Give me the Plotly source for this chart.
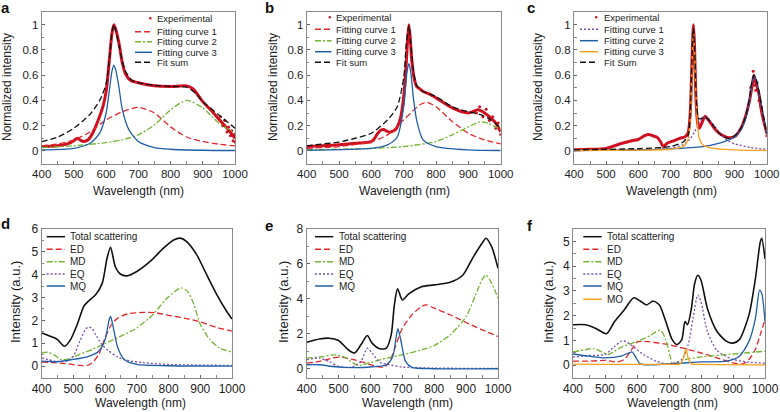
import plotly.graph_objects as go

W, H = 780, 412
FONT = "Liberation Sans, Arial, Helvetica, sans-serif"
RED = '#e3262b'; EXP = '#cf1020'; GREEN = '#72b52f'; BLUE = '#1f5ea8'
PURPLE = '#7a4db0'; ORANGE = '#f8a11d'; BLACK = '#111111'
DASH = '6px,3px'; DASHDOT = '6px,2px,2px,2px'; DOT = '2px,2px'

# ---------------- panel a ----------------
a_exp_x = [400,450,480,500,510,520,530,545,560,575,590,600,610,618,624,630,640,650,660,675,700,750,800,850,870,900,930,950,975,1000]
a_exp_y = [.034,.04,.055,.08,.10,.085,.075,.09,.15,.24,.35,.47,.72,.93,1.0,.96,.85,.70,.61,.56,.54,.515,.51,.515,.49,.39,.31,.25,.18,.10]
a_noise_x = [955,962,968,975,980,986,990,994,998,1000]
a_noise_y = [.27,.20,.24,.15,.19,.12,.16,.08,.13,.07]
a_fit_x = [400,450,500,550,580,600,612,618,624,630,640,660,680,700,750,800,850,880,900,950,1000]
a_fit_y = [.074,.11,.18,.29,.40,.53,.78,.93,1.0,.95,.83,.63,.56,.54,.52,.51,.505,.45,.39,.285,.18]
a_fc1_x = [400,450,500,550,600,650,700,750,800,850,900,950,1000]
a_fc1_y = [.04,.055,.087,.15,.245,.31,.345,.30,.19,.11,.075,.053,.04]
a_fc2_x = [400,500,600,650,700,750,800,850,900,950,1000]
a_fc2_y = [.026,.04,.066,.087,.127,.206,.325,.40,.34,.22,.14]
a_fc3_x = [400,500,550,580,600,612,618,624,630,640,650,670,700,750,800,900,1000]
a_fc3_y = [.008,.02,.06,.14,.30,.52,.63,.68,.64,.50,.33,.17,.074,.026,.013,.005,.003]

# ---------------- panel b ----------------
b_exp_x = [400,450,500,550,600,610,620,630,638,645,655,665,675,690,700,708,712,716,720,725,732,740,750,760,780,800,850,900,930,950,970,985,1000]
b_exp_y = [.034,.04,.048,.06,.074,.10,.14,.165,.17,.16,.148,.155,.17,.26,.43,.70,.88,1.0,.90,.72,.58,.51,.49,.47,.45,.42,.34,.30,.325,.30,.26,.22,.15]
b_noise_x = [925,935,945,955,965,975,985,992,1000]
b_noise_y = [.30,.35,.27,.33,.24,.27,.18,.22,.13]
b_fit_x = [400,450,500,550,600,650,680,700,708,716,722,730,740,760,780,800,850,900,940,970,1000]
b_fit_y = [.04,.055,.07,.10,.14,.245,.35,.58,.85,.99,.85,.64,.52,.47,.45,.43,.35,.31,.285,.245,.18]
b_fc1_x = [400,500,600,650,700,750,770,800,850,900,950,1000]
b_fc1_y = [.02,.034,.074,.127,.246,.365,.385,.35,.233,.14,.087,.056]
b_fc2_x = [400,600,700,800,850,900,935,960,1000]
b_fc2_y = [.008,.02,.034,.074,.127,.19,.23,.22,.167]
b_fc3_x = [400,600,650,680,700,710,716,722,730,740,760,800,900,1000]
b_fc3_y = [.005,.02,.048,.11,.35,.62,.69,.62,.42,.245,.087,.034,.008,.003]

# ---------------- panel c ----------------
c_exp_x = [400,450,500,550,580,600,620,632,645,660,670,678,690,710,730,745,755,762,766,770,772,775,780,785,790,798,808,820,840,860,880,900,920,935,945,955,960,965,975,985,1000]
c_exp_y = [.008,.012,.02,.06,.08,.09,.12,.13,.12,.105,.07,.034,.06,.08,.10,.11,.14,.30,.60,.92,1.0,.85,.40,.22,.18,.22,.275,.24,.17,.125,.105,.114,.18,.28,.38,.52,.60,.55,.46,.30,.14]
c_noise_x = [950,958,962,966,970,976,982,990,1000]
c_noise_y = [.50,.63,.52,.48,.54,.40,.35,.25,.12]
c_fit_x = [400,600,700,740,755,762,767,772,777,782,788,795,808,820,840,860,880,900,920,935,945,952,960,968,978,988,1000]
c_fit_y = [.008,.018,.034,.07,.12,.30,.68,.97,.70,.35,.255,.255,.27,.245,.18,.12,.10,.12,.18,.28,.40,.52,.60,.56,.44,.30,.13]
c_fc1_x = [400,600,700,740,760,775,790,800,808,820,840,860,880,900,950,1000]
c_fc1_y = [.003,.008,.02,.05,.09,.15,.22,.26,.27,.25,.19,.12,.08,.056,.026,.013]
c_fc2_x = [400,600,700,800,850,880,900,920,935,945,952,960,968,978,988,1000]
c_fc2_y = [.003,.008,.016,.034,.06,.085,.11,.17,.26,.38,.50,.595,.56,.44,.30,.14]
c_fc3_x = [400,600,700,740,755,762,767,772,777,782,790,800,820,900,1000]
c_fc3_y = [.003,.006,.013,.034,.09,.25,.60,.96,.65,.30,.10,.05,.026,.008,.003]

# ---------------- panel d ----------------
d_tot_x = [400,440,450,472,491,512,533,549,570,591,606,617,632,648,669,700,742,784,816,837,857,889,920,952,983,1000]
d_tot_y = [1.45,1.24,1.16,0.87,1.16,1.82,2.62,2.86,3.12,3.63,4.72,5.2,4.36,4.03,3.95,4.14,4.58,5.16,5.52,5.6,5.45,4.87,4.0,3.13,2.40,2.06]
d_ed_x = [400,440,480,520,545,560,580,600,620,640,670,720,760,800,850,900,950,1000]
d_ed_y = [.17,.15,.10,.03,.03,.15,.51,1.24,1.82,2.1,2.28,2.35,2.33,2.22,2.1,1.93,1.70,1.53]
d_md_x = [400,420,440,460,480,520,560,600,650,700,750,790,820,840,860,880,900,930,960,1000]
d_md_y = [.58,.61,.48,.29,.29,.51,.73,.99,1.31,1.67,2.25,2.9,3.27,3.42,3.27,2.69,1.82,1.16,.8,.61]
d_eq_x = [400,440,480,500,520,540,550,560,570,590,610,640,680,720,800,1000]
d_eq_y = [.36,.22,.22,.44,1.09,1.64,1.71,1.62,1.38,.94,.68,.39,.22,.15,.07,.03]
d_mq_x = [400,450,500,550,580,600,608,613,617,621,627,640,660,700,800,1000]
d_mq_y = [.22,.19,.29,.44,.65,1.16,1.7,2.05,2.17,2.0,1.6,.8,.29,.07,.015,0]

# ---------------- panel e ----------------
e_tot_x = [400,440,470,500,530,550,570,590,605,630,650,665,675,685,700,720,760,800,850,890,920,950,962,980,1000]
e_tot_y = [1.52,1.70,1.75,1.62,1.09,.90,1.37,1.9,1.47,1.14,1.18,1.94,3.66,4.57,3.94,4.29,4.7,4.8,4.95,5.37,6.32,7.18,7.47,6.99,5.75]
e_ed_x = [400,440,480,510,540,580,620,645,660,680,700,730,760,775,800,850,900,950,1000]
e_ed_y = [.32,.42,.61,.67,.55,.36,.13,.11,.42,1.37,2.32,3.09,3.56,3.66,3.47,3.09,2.65,2.23,1.85]
e_md_x = [400,450,490,520,560,600,650,700,750,800,850,900,930,950,962,980,1000]
e_md_y = [.61,.70,.80,.65,.19,.36,.61,.8,1.03,1.33,1.94,2.99,4.23,5.09,5.37,4.9,4.04]
e_eq_x = [400,440,470,500,540,570,590,605,630,660,700,800,1000]
e_eq_y = [.51,.61,.42,.13,.08,.42,1.18,.9,.36,.23,.1,.04,.02]
e_mq_x = [400,440,480,520,600,650,670,680,686,695,710,730,800,1000]
e_mq_y = [.23,.23,.13,.08,.1,.23,.7,1.75,2.29,1.66,.42,.08,0,0]

# ---------------- panel f ----------------
f_tot_x = [400,440,470,505,530,560,590,610,630,650,670,690,710,725,740,750,758,770,780,790,800,820,850,880,900,920,950,970,985,990,1000]
f_tot_y = [1.63,1.63,1.49,1.27,1.76,2.23,2.72,2.59,2.43,2.59,2.43,1.76,1.03,.83,1.03,1.76,1.63,2.29,3.29,3.63,3.43,2.29,1.36,.96,.89,1.03,2.03,3.49,4.96,5.12,4.29]
f_ed_x = [400,450,500,540,560,580,600,620,700,760,800,850,900,930,950,970,985,1000]
f_ed_y = [.16,.16,.19,.13,.23,.56,.93,.96,.83,.63,.49,.29,.09,.05,.23,.63,1.23,1.83]
f_md_x = [400,440,465,490,510,550,600,640,665,675,690,705,712,730,760,800,900,1000]
f_md_y = [.53,.63,.67,.53,.43,.72,.96,1.19,1.39,1.39,1.03,.29,.03,.13,.25,.33,.45,.56]
f_eq_x = [400,450,500,530,555,580,620,660,700,740,760,775,790,800,820,850,900,950,1000]
f_eq_y = [.32,.39,.43,.76,.99,.83,.43,.16,.03,.23,.83,1.89,2.83,2.56,1.36,.59,.23,.12,.08]
f_mq_x = [400,450,500,550,575,585,595,610,700,800,880,920,950,970,983,990,1000]
f_mq_y = [.45,.36,.29,.36,.5,.53,.35,.05,.05,.13,.16,.36,.96,1.89,3.03,2.89,1.76]
f_mo_x = [400,700,735,745,753,760,770,800,1000]
f_mo_y = [.04,.03,.05,.29,.67,.29,.05,.03,.01]

x_ticks = [400, 500, 600, 700, 800, 900, 1000]


def X(px):
    return px / W


def Y(py):
    return 1 - py / H


fig = go.Figure()

panels = [
    dict(letter='a', xd=(41.7, 235), yd=(12, 163.5), yr=(-0.1, 1.1), dt=0.2, top=True),
    dict(letter='b', xd=(306.7, 500.7), yd=(12, 163.5), yr=(-0.1, 1.1), dt=0.2, top=True),
    dict(letter='c', xd=(574, 766.7), yd=(12, 163.5), yr=(-0.1, 1.1), dt=0.2, top=True),
    dict(letter='d', xd=(41.7, 232), yd=(229, 377.5), yr=(-0.5, 6), dt=1, top=False),
    dict(letter='e', xd=(306.7, 498), yd=(229, 377.5), yr=(-0.5, 8), dt=2, top=False),
    dict(letter='f', xd=(573, 765), yd=(229, 377.5), yr=(-0.5, 5.5), dt=1, top=False),
]

layout = dict(template='none', width=W, height=H, margin=dict(l=0, r=0, t=0, b=0, pad=0),
              paper_bgcolor='white', plot_bgcolor='white', showlegend=False,
              font=dict(family=FONT, color='#222'))
annotations = []
shapes = []

for i, p in enumerate(panels):
    n = '' if i == 0 else str(i + 1)
    tick_fs = 11.5 if p['top'] else 12
    common = dict(ticks='inside', ticklen=3, tickcolor='#666', tickwidth=1,
                  showline=True, mirror=True, linecolor='#8a8a8a', linewidth=1,
                  showgrid=False, zeroline=False, automargin=False,
                  tickfont=dict(size=tick_fs, family=FONT, color='#222'))
    layout['xaxis' + n] = dict(
        domain=[X(p['xd'][0]), X(p['xd'][1])], range=[400, 1000], anchor='y' + n,
        tickmode='array', tickvals=x_ticks,
        minor=dict(dtick=50, tick0=400, ticks='inside', ticklen=2.5, tickcolor='#888', showgrid=False),
        **common)
    layout['yaxis' + n] = dict(
        domain=[Y(p['yd'][1]), Y(p['yd'][0])], range=list(p['yr']), anchor='x' + n,
        tickmode='linear', tick0=0, dtick=p['dt'],
        minor=dict(dtick=p['dt'] / 2, tick0=0, ticks='inside', ticklen=2.5, tickcolor='#888', showgrid=False),
        **common)

# axis titles & letters
TITLE_FS = 12
xt = [(138, 190.7), (404, 190.7), (671, 190.7), (140, 403), (407, 403), (672, 403)]
yt = [(7, 87), (273, 87), (538, 87), (15, 302), (283, 302), (548, 302)]
letters = [(5, 8), (269, 8), (531, 8), (5, 223), (269, 225), (530, 225)]
for i, p in enumerate(panels):
    annotations.append(dict(text='Wavelength (nm)', x=X(xt[i][0]), y=Y(xt[i][1]), xref='paper', yref='paper',
                            showarrow=False, xanchor='center', yanchor='middle',
                            font=dict(size=TITLE_FS, family=FONT, color='#222')))
    annotations.append(dict(text='Normalized intensity' if p['top'] else 'Intensity (a.u.)',
                            x=X(yt[i][0]), y=Y(yt[i][1]), xref='paper', yref='paper', textangle=-90,
                            showarrow=False, xanchor='center', yanchor='middle',
                            font=dict(size=TITLE_FS if p['top'] else 13, family=FONT, color='#222')))
    annotations.append(dict(text='<b>%s</b>' % p['letter'], x=X(letters[i][0]), y=Y(letters[i][1]),
                            xref='paper', yref='paper', showarrow=False, xanchor='center', yanchor='middle',
                            font=dict(size=15, family=FONT, color='#111')))


def line(k, x, y, color, dash, width=1.3):
    n = '' if k == 0 else str(k + 1)
    fig.add_trace(go.Scatter(x=x, y=y, mode='lines', xaxis='x' + n, yaxis='y' + n,
                             line=dict(color=color, dash=dash, width=width, shape='spline', smoothing=0.7),
                             hoverinfo='skip', showlegend=False))


def dots(k, x, y):
    n = '' if k == 0 else str(k + 1)
    fig.add_trace(go.Scatter(x=x, y=y, mode='markers', xaxis='x' + n, yaxis='y' + n,
                             marker=dict(color=EXP, size=3), hoverinfo='skip', showlegend=False))


# panel a
line(0, a_exp_x, a_exp_y, EXP, 'solid', 3)
dots(0, a_noise_x, a_noise_y)
line(0, a_fc1_x, a_fc1_y, RED, DASH)
line(0, a_fc2_x, a_fc2_y, GREEN, DASHDOT)
line(0, a_fc3_x, a_fc3_y, BLUE, 'solid')
line(0, a_fit_x, a_fit_y, BLACK, DASH)
# panel b
line(1, b_exp_x, b_exp_y, EXP, 'solid', 3)
dots(1, b_noise_x, b_noise_y)
line(1, b_fc1_x, b_fc1_y, RED, DASH)
line(1, b_fc2_x, b_fc2_y, GREEN, DASHDOT)
line(1, b_fc3_x, b_fc3_y, BLUE, 'solid')
line(1, b_fit_x, b_fit_y, BLACK, DASH)
# panel c
line(2, c_exp_x, c_exp_y, EXP, 'solid', 3)
dots(2, c_noise_x, c_noise_y)
line(2, c_fc1_x, c_fc1_y, PURPLE, DOT)
line(2, c_fc2_x, c_fc2_y, BLUE, 'solid')
line(2, c_fc3_x, c_fc3_y, ORANGE, 'solid')
line(2, c_fit_x, c_fit_y, BLACK, DASH)
# panel d
line(3, d_tot_x, d_tot_y, BLACK, 'solid', 1.6)
line(3, d_ed_x, d_ed_y, RED, DASH)
line(3, d_md_x, d_md_y, GREEN, DASHDOT)
line(3, d_eq_x, d_eq_y, PURPLE, DOT)
line(3, d_mq_x, d_mq_y, BLUE, 'solid')
# panel e
line(4, e_tot_x, e_tot_y, BLACK, 'solid', 1.6)
line(4, e_ed_x, e_ed_y, RED, DASH)
line(4, e_md_x, e_md_y, GREEN, DASHDOT)
line(4, e_eq_x, e_eq_y, PURPLE, DOT)
line(4, e_mq_x, e_mq_y, BLUE, 'solid')
# panel f
line(5, f_tot_x, f_tot_y, BLACK, 'solid', 1.6)
line(5, f_ed_x, f_ed_y, RED, DASH)
line(5, f_md_x, f_md_y, GREEN, DASHDOT)
line(5, f_eq_x, f_eq_y, PURPLE, DOT)
line(5, f_mq_x, f_mq_y, BLUE, 'solid')
line(5, f_mo_x, f_mo_y, ORANGE, 'solid')

# legends (drawn manually for compact spacing)
leg_top_ab = [('Experimental', EXP, 'dot'), ('Fitting curve 1', RED, DASH), ('Fitting curve 2', GREEN, DASHDOT),
              ('Fitting curve 3', BLUE, 'solid'), ('Fit sum', BLACK, DASH)]
leg_top_c = [('Experimental', EXP, 'dot'), ('Fitting curve 1', PURPLE, DOT), ('Fitting curve 2', BLUE, 'solid'),
             ('Fitting curve 3', ORANGE, 'solid'), ('Fit Sum', BLACK, DASH)]
leg_bot = [('Total scattering', BLACK, 'solid'), ('ED', RED, DASH), ('MD', GREEN, DASHDOT),
           ('EQ', PURPLE, DOT), ('MQ', BLUE, 'solid'), ('MO', ORANGE, 'solid')]
rows_top_a = [18.3, 31.7, 41.7, 52.3, 62.3]
rows_top_b = [17.3, 29.3, 40.7, 51.7, 62.3]
rows_bot = [236.7, 249.3, 261.7, 274, 286, 299.3]
legends = [
    (leg_top_ab, (135, 152), 155, rows_top_a, 9.5),
    (leg_top_ab, (315, 331.5), 334, rows_top_b, 9.5),
    (leg_top_c, (580, 598), 601.5, rows_top_b, 9.5),
    (leg_bot[:5], (46.7, 65), 68.3, rows_bot, 10),
    (leg_bot[:5], (315, 333.3), 337.3, rows_bot, 10),
    (leg_bot, (583.3, 601.7), 605, rows_bot, 10),
]
for items, (s0, s1), tx, rows, fs in legends:
    for (name, color, dash), ry in zip(items, rows):
        if dash == 'dot':
            shapes.append(dict(type='circle', xref='paper', yref='paper', x0=X(s1 - 3), x1=X(s1 - 0.5),
                               y0=Y(ry + 1.3), y1=Y(ry - 1.3), fillcolor=EXP, line=dict(width=0)))
        else:
            shapes.append(dict(type='line', xref='paper', yref='paper', x0=X(s0), x1=X(s1), y0=Y(ry), y1=Y(ry),
                               line=dict(color=color, dash=dash, width=1.5)))
        annotations.append(dict(text=name, x=X(tx), y=Y(ry), xref='paper', yref='paper', showarrow=False,
                                xanchor='left', yanchor='middle', font=dict(size=fs, family=FONT, color='#222')))

layout['annotations'] = annotations
layout['shapes'] = shapes
fig.update_layout(**layout)
# the page's default 8px body margin would shift the 780x412 figure; remove it
fig.write_html("out.html", config={'displayModeBar': False},
               post_script="document.body.style.margin='0px';")
